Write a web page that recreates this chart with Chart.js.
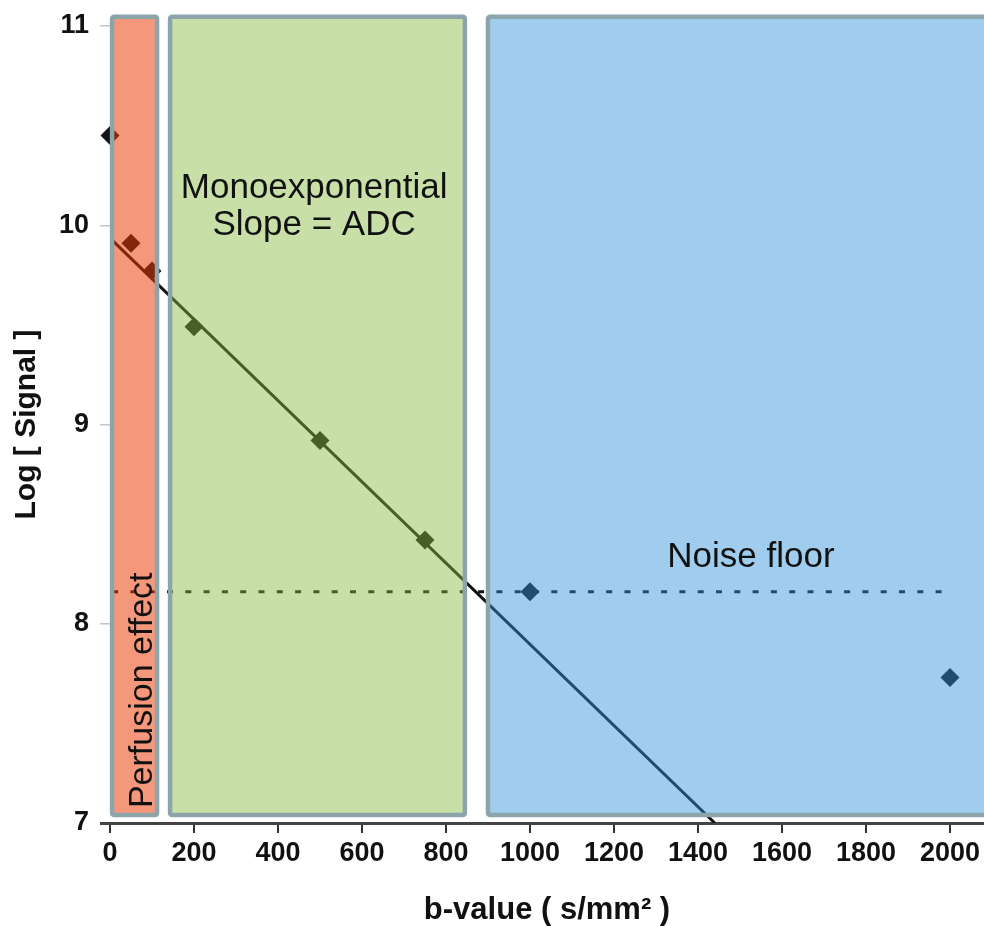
<!DOCTYPE html>
<html>
<head>
<meta charset="utf-8">
<script src="https://cdn.jsdelivr.net/npm/chart.js@4/dist/chart.umd.min.js"></script>
<style>
  html, body { margin: 0; padding: 0; background: #fff; }
  #grafic { display: block; }
</style>
</head>
<body>
<canvas id="grafic" width="984" height="926"></canvas>
<script>
// Dades
const bValues   = [0, 50, 100, 200, 500, 750, 1000, 2000];
const logSignal = [10.45, 9.91, 9.77, 9.49, 8.92, 8.42, 8.16, 7.73];

// recta de l'ajust (ADC)
const fitB   = [5, 1440];
const fitLog = [9.925, 7.0];

// soroll de fons
const noiseB   = [5, 2000];
const noiseLog = [8.16, 8.16];

// zones
const regionStart = [5, 143, 900];
const regionEnd   = [112, 845, 2150];
const regionLow   = 7.04;
const regionHigh  = 11.046;
const regionFill  = ['rgba(236, 56, 0, 0.52)', 'rgba(135, 187, 66, 0.46)', 'rgba(48, 146, 217, 0.46)'];

const xTicks = [0, 200, 400, 600, 800, 1000, 1200, 1400, 1600, 1800, 2000];
const yTicks = [7, 8, 9, 10, 11];

const FONT = "'Liberation Sans', Arial, sans-serif";

const toPoints = (xs, ys) => xs.map((v, i) => ({ x: v, y: ys[i] }));

// Zones de color i textos per sobre de les dades
const zonesPlugin = {
  id: 'zones',
  afterDatasetsDraw(chart) {
    const { ctx, scales: { x, y } } = chart;
    ctx.save();
    regionStart.forEach((s, i) => {
      const left = x.getPixelForValue(s);
      const right = x.getPixelForValue(regionEnd[i]);
      const top = y.getPixelForValue(regionHigh);
      const bottom = y.getPixelForValue(regionLow);
      ctx.beginPath();
      ctx.roundRect(left, top, right - left, bottom - top, 2);
      ctx.fillStyle = regionFill[i];
      ctx.fill();
      ctx.lineWidth = 4.5;
      ctx.strokeStyle = '#8ca5aa';
      ctx.stroke();
    });

    ctx.fillStyle = '#111';
    ctx.font = '35px ' + FONT;
    ctx.textAlign = 'center';
    ctx.textBaseline = 'alphabetic';
    ctx.fillText('Monoexponential', x.getPixelForValue(486), y.getPixelForValue(10.135));
    ctx.fillText('Slope = ADC', x.getPixelForValue(486), y.getPixelForValue(9.95));
    ctx.fillText('Noise floor', x.getPixelForValue(1526), y.getPixelForValue(8.285));

    // text vertical
    ctx.font = '34px ' + FONT;
    ctx.translate(x.getPixelForValue(100), y.getPixelForValue(7.075));
    ctx.rotate(-Math.PI / 2);
    ctx.textAlign = 'left';
    ctx.fillText('Perfusion effect', 0, 0);
    ctx.restore();
  }
};

const ctx = document.getElementById('grafic');
new Chart(ctx, {
  type: 'scatter',
  data: {
    datasets: [
      {
        label: 'Ajust',
        data: toPoints(fitB, fitLog),
        showLine: true,
        borderColor: '#111',
        borderWidth: 3,
        pointRadius: 0
      },
      {
        label: 'Soroll',
        data: toPoints(noiseB, noiseLog),
        showLine: true,
        borderColor: '#111',
        borderWidth: 3,
        borderDash: [6, 12.3],
        pointRadius: 0
      },
      {
        label: 'Senyal',
        data: toPoints(bValues, logSignal),
        clip: false,
        pointStyle: 'rectRot',
        pointRadius: 9.5,
        pointBackgroundColor: '#141414',
        pointBorderWidth: 0
      }
    ]
  },
  options: {
    responsive: false,
    animation: false,
    layout: { autoPadding: false, padding: { top: 26, left: 0, right: 0, bottom: 0 } },
    plugins: {
      legend: { display: false },
      tooltip: { enabled: false }
    },
    scales: {
      x: {
        type: 'linear',
        min: 0,
        max: 2081,
        afterFit: (scale) => {
          scale.height = 103;
          scale.paddingLeft = 0;
          scale.paddingRight = 0;
        },
        afterBuildTicks: (scale) => { scale.ticks = xTicks.map(v => ({ value: v })); },
        ticks: {
          color: '#111',
          padding: 4,
          maxRotation: 0,
          callback: (v) => String(v),
          font: { family: FONT, size: 27, weight: 'bold' }
        },
        grid: {
          drawOnChartArea: false,
          drawTicks: true,
          tickLength: 10,
          color: '#333',
          lineWidth: 2
        },
        border: { color: '#444', width: 3 },
        title: {
          display: true,
          text: 'b-value ( s/mm² )',
          color: '#111',
          padding: { top: 0, bottom: 0 },
          font: { family: FONT, size: 31, weight: 'bold', lineHeight: 1 }
        }
      },
      y: {
        min: 7,
        max: 11,
        afterFit: (scale) => {
          scale.width = 110;
          scale.paddingTop = 0;
          scale.paddingBottom = 0;
        },
        afterBuildTicks: (scale) => { scale.ticks = yTicks.map(v => ({ value: v })); },
        ticks: {
          color: '#111',
          padding: 11,
          callback: (v) => String(v),
          font: { family: FONT, size: 27, weight: 'bold' }
        },
        grid: {
          drawOnChartArea: false,
          drawTicks: true,
          tickLength: 10,
          color: (c) => c.tick && c.tick.value === 7 ? '#444' : '#c4c4c4',
          lineWidth: (c) => c.tick && c.tick.value === 7 ? 3 : 1.5
        },
        border: { display: false },
        title: {
          display: true,
          text: 'Log [ Signal ]',
          color: '#111',
          padding: { top: 12, bottom: 0 },
          font: { family: FONT, size: 30, weight: 'bold', lineHeight: 1 }
        }
      }
    }
  },
  plugins: [zonesPlugin]
});
</script>
</body>
</html>
